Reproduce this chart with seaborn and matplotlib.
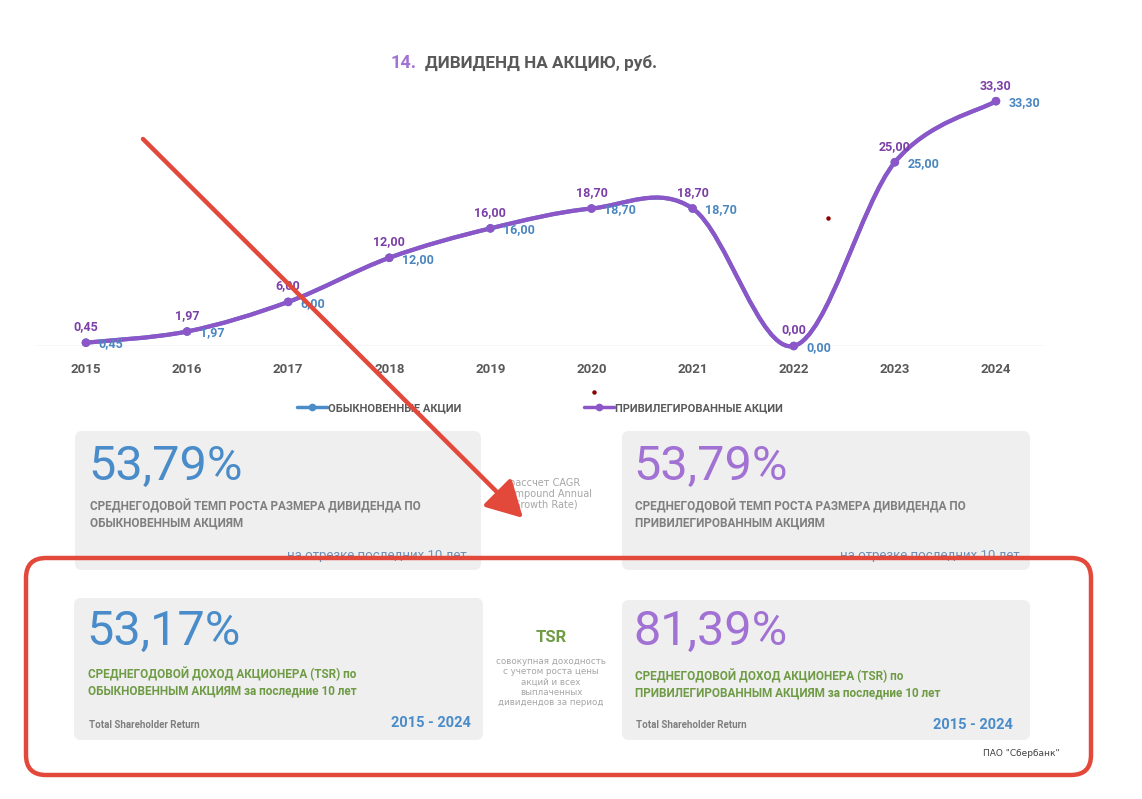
import numpy as np
import pandas as pd
import matplotlib
matplotlib.use("Agg")
import matplotlib.pyplot as plt
import seaborn as sns
from matplotlib.path import Path
from matplotlib.patches import PathPatch, FancyBboxPatch
from matplotlib.lines import Line2D
from matplotlib import font_manager

# ---------------- data ----------------
years = [2015, 2016, 2017, 2018, 2019, 2020, 2021, 2022, 2023, 2024]
ordinary = [0.45, 1.97, 6.00, 12.00, 16.00, 18.70, 18.70, 0.00, 25.00, 33.30]
preferred = [0.45, 1.97, 6.00, 12.00, 16.00, 18.70, 18.70, 0.00, 25.00, 33.30]
series_names = ["ОБЫКНОВЕННЫЕ АКЦИИ", "ПРИВИЛЕГИРОВАННЫЕ АКЦИИ"]
cagr_values = ["53,79%", "53,79%"]
tsr_values = ["53,17%", "81,39%"]
period_label = "2015 - 2024"

sns.set_theme(style="white")
names = {f.name for f in font_manager.fontManager.ttflist}
NARROW = "Liberation Sans Narrow" if "Liberation Sans Narrow" in names else "Roboto"
plt.rcParams["font.family"] = [NARROW, "DejaVu Sans"]

BLUE = "#4a8cc9"
BLUE_LBL = "#4a86c0"
PURPLE = "#8c55c8"
PURPLE_LBL = "#7a3fa8"
PURPLE_BIG = "#a271d4"
GRAY = "#7f7f7f"
DARK = "#595959"
GREEN = "#6f9b45"
BOXC = "#efefef"
RED = "#e2493b"

W, H = 1142, 799
fig = plt.figure(figsize=(W / 100, H / 100), dpi=100)


def fx(px):
    return px / W


def fy(py):
    return 1 - py / H


# ---------------- chart axes ----------------
ax = fig.add_axes([fx(35), fy(346), fx(1045) - fx(35), fy(60) - fy(346)])
ax.set_xlim(2014.496, 2024.485)
ax.set_ylim(0, 38.9)
for s in ax.spines.values():
    s.set_visible(False)
ax.set_yticks([])
ax.axhline(0, color="#d9d9d9", lw=1, zorder=1)
ax.set_xticks(years)
ax.set_xticklabels([str(y) for y in years], fontsize=9.5, fontweight="bold", color=DARK)
ax.tick_params(axis="x", length=0, pad=12)
ax.patch.set_alpha(0)


def smooth_path(xs, ys):
    xs = np.asarray(xs, float)
    ys = np.asarray(ys, float)
    n = len(xs)
    verts = [(xs[0], ys[0])]
    codes = [Path.MOVETO]
    for i in range(n - 1):
        p0 = np.array([xs[max(i - 1, 0)], ys[max(i - 1, 0)]])
        p1 = np.array([xs[i], ys[i]])
        p2 = np.array([xs[i + 1], ys[i + 1]])
        p3 = np.array([xs[min(i + 2, n - 1)], ys[min(i + 2, n - 1)]])
        c1 = p1 + (p2 - p0) / 6
        c2 = p2 - (p3 - p1) / 6
        verts += [tuple(c1), tuple(c2), tuple(p2)]
        codes += [Path.CURVE4] * 3
    return Path(verts, codes)


df = pd.DataFrame({"year": years * 2,
                   "value": ordinary + preferred,
                   "series": [series_names[0]] * 10 + [series_names[1]] * 10})

ax.add_patch(PathPatch(smooth_path(years, ordinary), fill=False, ec=BLUE, lw=3, zorder=2,
                       clip_on=False, capstyle="round"))
ax.add_patch(PathPatch(smooth_path(years, preferred), fill=False, ec=PURPLE, lw=3.0, zorder=3,
                       clip_on=False, capstyle="round"))
sns.scatterplot(data=df, x="year", y="value", hue="series",
                palette=[BLUE, PURPLE], s=38, edgecolor="none", legend=False,
                ax=ax, zorder=4, clip_on=False)
ax.set_xlabel("")
ax.set_ylabel("")

for x, v in zip(years, preferred):
    ax.annotate(f"{v:.2f}".replace(".", ","), (x, v), xytext=(0, 11.5), textcoords="offset points",
                ha="center", va="center", fontsize=9, fontweight="bold", color=PURPLE_LBL, zorder=5)
for x, v in zip(years, ordinary):
    ax.annotate(f"{v:.2f}".replace(".", ","), (x, v), xytext=(9, -1), textcoords="offset points",
                ha="left", va="center", fontsize=9, fontweight="bold", color=BLUE_LBL, zorder=5)

# legend
handles = [Line2D([], [], color=BLUE, lw=2.5, marker="o", ms=4.5),
           Line2D([], [], color=PURPLE, lw=2.5, marker="o", ms=4.5)]
leg = fig.legend(handles, series_names, loc="center", bbox_to_anchor=(fx(540), fy(408)),
                 ncol=2, frameon=False, handlelength=2.7, handletextpad=0.1,
                 columnspacing=11.0, prop={"size": 8, "weight": "bold"})
for t in leg.get_texts():
    t.set_color(DARK)

# ---------------- overlay (infographic) ----------------
ov = fig.add_axes([0, 0, 1, 1], zorder=10)
ov.set_xlim(0, W)
ov.set_ylim(H, 0)
ov.axis("off")
ov.patch.set_alpha(0)

# title
ov.text(390, 63, "14.", fontsize=13, fontweight="bold", color=PURPLE_BIG, va="center", ha="left")
ov.text(425, 63, "ДИВИДЕНД НА АКЦИЮ, руб.", fontsize=12.3, fontweight="bold", color=DARK,
        va="center", ha="left")

boxes = [(75, 431, 406, 139), (622, 431, 408, 139), (74, 598, 409, 142), (622, 600, 408, 140)]
for (bx, by, bw, bh) in boxes:
    ov.add_patch(FancyBboxPatch((bx, by), bw, bh, boxstyle="round,pad=0,rounding_size=7",
                                fc=BOXC, ec="none", zorder=1))

big_font = {"fontsize": 35, "va": "center", "ha": "left"}
sub_font = {"fontsize": 8.5, "fontweight": "bold", "va": "center", "ha": "left", "linespacing": 1.3}

# CAGR boxes
ov.text(88, 467, cagr_values[0], color=BLUE, **big_font)
ov.text(633, 467, cagr_values[1], color=PURPLE_BIG, **big_font)
ov.text(90, 514, "СРЕДНЕГОДОВОЙ ТЕМП РОСТА РАЗМЕРА ДИВИДЕНДА ПО\nОБЫКНОВЕННЫМ АКЦИЯМ",
        color=GRAY, **sub_font)
ov.text(635, 514, "СРЕДНЕГОДОВОЙ ТЕМП РОСТА РАЗМЕРА ДИВИДЕНДА ПО\nПРИВИЛЕГИРОВАННЫМ АКЦИЯМ",
        color=GRAY, **sub_font)
for xr in (467, 1020):
    ov.text(xr, 555, "на отрезке последних 10 лет", fontsize=9.5, color="#6b8fb5",
            va="center", ha="right", zorder=2)
ov.text(545, 494, "рассчет CAGR\n(Compound Annual\nGrowth Rate)", fontsize=7, color="#a6a6a6",
        ha="center", va="center", linespacing=1.1, family=["DejaVu Sans"])

# TSR boxes
ov.text(86, 632, tsr_values[0], color=BLUE, **big_font)
ov.text(633, 632, tsr_values[1], color=PURPLE_BIG, **big_font)
ov.text(88, 682, "СРЕДНЕГОДОВОЙ ДОХОД АКЦИОНЕРА (TSR) по\nОБЫКНОВЕННЫМ АКЦИЯМ за последние 10 лет",
        color=GREEN, **sub_font)
ov.text(635, 684, "СРЕДНЕГОДОВОЙ ДОХОД АКЦИОНЕРА (TSR) по\nПРИВИЛЕГИРОВАННЫМ АКЦИЯМ за последние 10 лет",
        color=GREEN, **sub_font)
ov.text(89, 725, "Total Shareholder Return", fontsize=7, fontweight="bold", color=GRAY,
        va="center", ha="left")
ov.text(636, 725, "Total Shareholder Return", fontsize=7, fontweight="bold", color=GRAY,
        va="center", ha="left")
ov.text(471, 723, period_label, fontsize=10.5, fontweight="bold", color=BLUE, va="center", ha="right")
ov.text(1013, 725, period_label, fontsize=10.5, fontweight="bold", color=BLUE, va="center", ha="right")

ov.text(551, 638, "TSR", fontsize=12, fontweight="bold", color=GREEN, ha="center", va="center")
ov.text(551, 682, "совокупная доходность\nс учетом роста цены\nакций и всех\nвыплаченных\nдивидендов за период",
        fontsize=6.3, color="#a6a6a6", ha="center", va="center", linespacing=1.15,
        family=["DejaVu Sans"])
ov.text(1060, 754, 'ПАО "Сбербанк"', fontsize=6.5, color="#404040", ha="right", va="center",
        family=["DejaVu Sans"])

# red annotations
ov.add_patch(FancyBboxPatch((26, 558), 1065, 217, boxstyle="round,pad=0,rounding_size=20",
                            fc="none", ec=RED, lw=3.2, zorder=5))
ov.annotate("", xy=(523, 518), xytext=(143, 139),
            arrowprops=dict(arrowstyle="-|>,head_length=1.0,head_width=0.55", lw=3.2,
                            color=RED, mutation_scale=22, shrinkA=0, shrinkB=0), zorder=6)
ov.plot([828, 594], [218, 392], ls="none", marker="o", ms=2.2, color="#8b0000", zorder=6)

fig.savefig("out.png", dpi=100)
